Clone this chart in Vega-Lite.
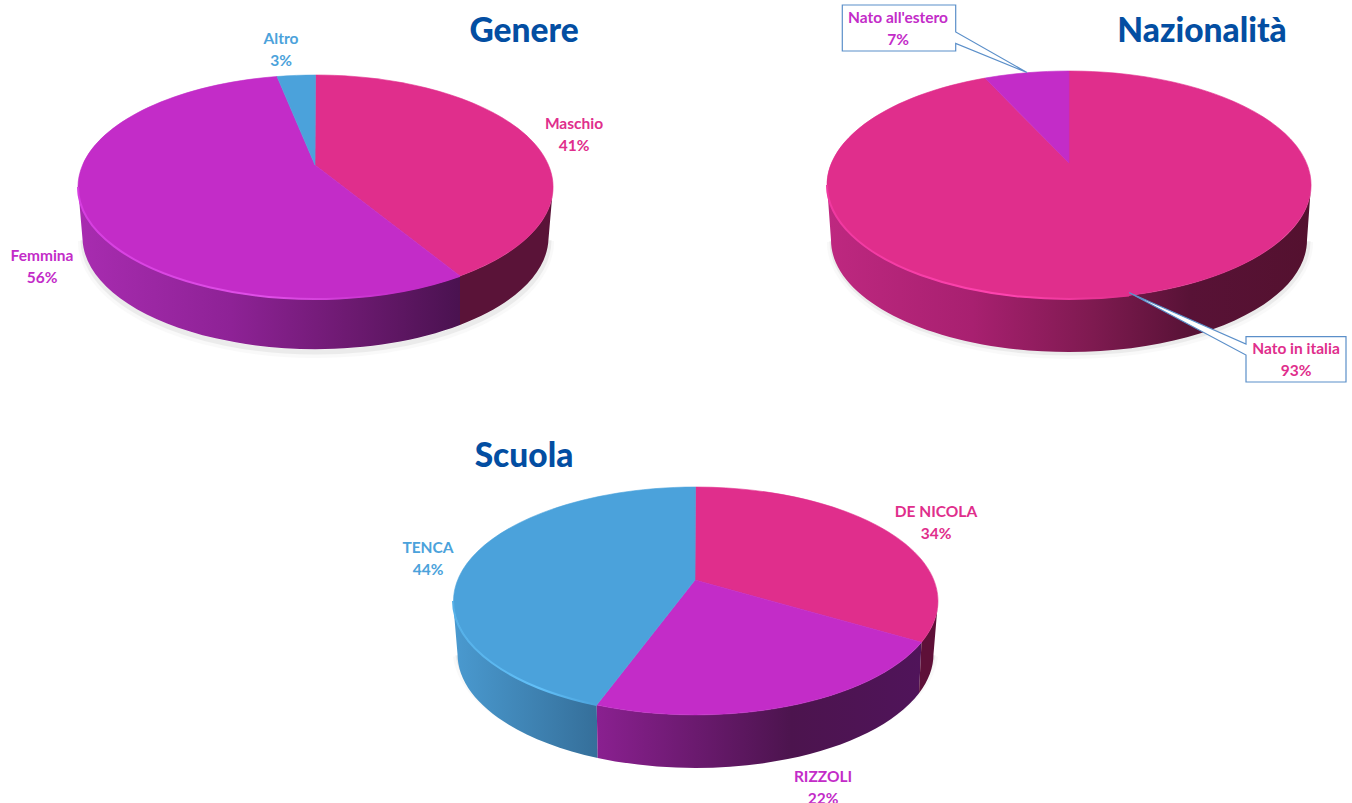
{
"$schema":"https://vega.github.io/schema/vega-lite/v6.json",
"width":1352,"height":803,"padding":0,"autosize":{"type":"none"},
"background":"white",
"config":{"view":{"stroke":null},"text":{"font":"Lato","fontWeight":"bold","fontSize":15.5,"lineBreak":"\n","lineHeight":22,"baseline":"middle","align":"center"}},
"data":{"values":[
{"grafico":"Genere","riga":"alto","fetta":"Maschio","valore":41,"etichetta":"Maschio\n41%"},
{"grafico":"Genere","riga":"alto","fetta":"Femmina","valore":56,"etichetta":"Femmina\n56%"},
{"grafico":"Genere","riga":"alto","fetta":"Altro","valore":3,"etichetta":"Altro\n3%"},
{"grafico":"Nazionalità","riga":"alto","fetta":"Nato in italia","valore":93,"etichetta":"Nato in italia\n93%"},
{"grafico":"Nazionalità","riga":"alto","fetta":"Nato all'estero","valore":7,"etichetta":"Nato all'estero\n7%"},
{"grafico":"Scuola","riga":"basso","fetta":"DE NICOLA","valore":34,"etichetta":"DE NICOLA\n34%"},
{"grafico":"Scuola","riga":"basso","fetta":"RIZZOLI","valore":22,"etichetta":"RIZZOLI\n22%"},
{"grafico":"Scuola","riga":"basso","fetta":"TENCA","valore":44,"etichetta":"TENCA\n44%"}
]},
"encoding":{
"x":{"field":"grafico","type":"nominal","axis":null,"scale":{"type":"point","domain":["Genere","Scuola","Nazionalità"],"range":[315,1069],"padding":0}},
"y":{"field":"riga","type":"nominal","axis":null,"scale":{"type":"point","domain":["alto","basso"],"range":[165,580],"padding":0}}
},
"resolve":{"scale":{"shape":"independent"}},
"layer":[
{"transform":[{"filter":{"field":"fetta","oneOf":["Maschio","Nato in italia","DE NICOLA"]}}],
 "mark":{"type":"point","filled":false,"size":4,"stroke":"#000000","strokeWidth":10,"opacity":0.02},
 "encoding":{"shape":{"field":"grafico","type":"nominal","legend":null,"scale":{"domain":["Genere","Nazionalità","Scuola"],"range":["M-232,76 A233,112 0 0 0 234,76","M-237,77 A238,112 0 0 0 239,77","M-234,76 A238,114 0 0 0 241,76"]}}}},
{"transform":[{"filter":{"field":"fetta","oneOf":["Maschio","Nato in italia","DE NICOLA"]}}],
 "mark":{"type":"point","filled":false,"size":4,"stroke":"#000000","strokeWidth":5,"opacity":0.05},
 "encoding":{"shape":{"field":"grafico","type":"nominal","legend":null,"scale":{"domain":["Genere","Nazionalità","Scuola"],"range":["M-232,75 A233,112 0 0 0 234,75","M-237,76 A238,112 0 0 0 239,76","M-234,75 A238,114 0 0 0 241,75"]}}}},
{"transform":[{"filter":{"field":"fetta","equal":"Femmina"}}],
 "mark":{"type":"point","filled":true,"opacity":1,"size":4,"strokeWidth":0,"shape":"M-237,22 A237.5,112 0 0 0 145,110.9 L145,160 A233,112 0 0 1 -232.5,74 Z",
 "fill":{"gradient":"linear","x1":0,"y1":0,"x2":1,"y2":0,"stops":[{"offset":0,"color":"#A82CB0"},{"offset":0.4,"color":"#8E2296"},{"offset":0.7,"color":"#6E1A72"},{"offset":1,"color":"#4A1250"}]}}},
{"transform":[{"filter":{"field":"fetta","equal":"Maschio"}}],
 "mark":{"type":"point","filled":true,"opacity":1,"size":4,"strokeWidth":0,"shape":"M145,110.9 A237.5,112 0 0 0 238,22 L233.5,74 A233,112 0 0 1 145,160 Z",
 "fill":"#5A1338"}},
{"transform":[{"filter":{"field":"fetta","equal":"Nato in italia"}}],
 "mark":{"type":"point","filled":true,"opacity":1,"size":4,"strokeWidth":0,"shape":"M-242,20 A242,114 0 0 0 242,20 L238,75 A238,112 0 0 1 -238,75 Z",
 "fill":{"gradient":"linear","x1":0,"y1":0,"x2":1,"y2":0,"stops":[{"offset":0,"color":"#BE2880"},{"offset":0.3,"color":"#A82070"},{"offset":0.55,"color":"#7E1A50"},{"offset":0.75,"color":"#581236"},{"offset":1,"color":"#54112F"}]}}},
{"transform":[{"filter":{"field":"fetta","equal":"TENCA"}}],
 "mark":{"type":"point","filled":true,"opacity":1,"size":4,"strokeWidth":0,"shape":"M-239,21 A242.5,114 0 0 0 -95.3,125 L-94.3,177.9 A238,114 0 0 1 -234.5,74 Z",
 "fill":{"gradient":"linear","x1":0,"y1":0,"x2":1,"y2":0,"stops":[{"offset":0,"color":"#4A9AD0"},{"offset":1,"color":"#356F9A"}]}}},
{"transform":[{"filter":{"field":"fetta","equal":"RIZZOLI"}}],
 "mark":{"type":"point","filled":true,"opacity":1,"size":4,"strokeWidth":0,"shape":"M-95.3,125 A242.5,114 0 0 0 229.5,62.3 L227,113.2 A238,114 0 0 1 -94.3,177.9 Z",
 "fill":{"gradient":"linear","x1":0,"y1":0,"x2":1,"y2":0,"stops":[{"offset":0,"color":"#8A2090"},{"offset":0.6,"color":"#4C144E"},{"offset":1,"color":"#50145A"}]}}},
{"transform":[{"filter":{"field":"fetta","equal":"DE NICOLA"}}],
 "mark":{"type":"point","filled":true,"opacity":1,"size":4,"strokeWidth":0,"shape":"M229.5,62.3 A242.5,114 0 0 0 246,21 L241.5,74 A238,114 0 0 1 227,113.2 Z",
 "fill":"#5E1038"}},
{"mark":{"type":"point","filled":true,"opacity":1,"size":4,"strokeWidth":0.6},
 "encoding":{
  "color":{"field":"fetta","type":"nominal","legend":null,"scale":{"domain":["Maschio","Femmina","Altro","Nato in italia","Nato all'estero","DE NICOLA","RIZZOLI","TENCA"],"range":["#E02E8C","#C32CC8","#4BA2DB","#E02E8C","#C32CC8","#E02E8C","#C32CC8","#4BA2DB"]}},
  "stroke":{"field":"fetta","type":"nominal","legend":null,"scale":{"domain":["Maschio","Femmina","Altro","Nato in italia","Nato all'estero","DE NICOLA","RIZZOLI","TENCA"],"range":["#E02E8C","#C32CC8","#4BA2DB","#E02E8C","#C32CC8","#E02E8C","#C32CC8","#4BA2DB"]}},
  "shape":{"field":"fetta","type":"nominal","legend":null,"scale":{"domain":["Maschio","Femmina","Altro","Nato in italia","Nato all'estero","DE NICOLA","RIZZOLI","TENCA"],"range":[
   "M0,0 L0.5,-90 A237.5,112 0 0 1 145,110.9 Z",
   "M0,0 L145,110.9 A237.5,112 0 1 1 -38,-88.5 Z",
   "M0,0 L-38,-88.5 A237.5,112 0 0 1 0.5,-90 Z",
   "M0,-2 L0,-94 A242,114 0 1 1 -84,-86.9 Z",
   "M0,-2 L-84,-86.9 A242,114 0 0 1 0,-94 Z",
   "M3,0 L3.5,-93 A242.5,114 0 0 1 229.5,62.3 Z",
   "M3,0 L229.5,62.3 A242.5,114 0 0 1 -95.3,125 Z",
   "M3,0 L-95.3,125 A242.5,114 0 0 1 3.5,-93 Z"]}}
 }},
{"transform":[{"filter":{"field":"fetta","equal":"Femmina"}}],
 "mark":{"type":"point","filled":false,"opacity":1,"size":4,"strokeWidth":2,"shape":"M-237,22 A237.5,112 0 0 0 145,110.9",
 "stroke":{"gradient":"linear","x1":0,"y1":0,"x2":1,"y2":0,"stops":[{"offset":0,"color":"#D63EE0"},{"offset":0.5,"color":"#E050E8"},{"offset":0.85,"color":"#C32CC8"},{"offset":1,"color":"#C32CC8"}]}}},
{"transform":[{"filter":{"field":"fetta","equal":"Nato in italia"}}],
 "mark":{"type":"point","filled":false,"opacity":1,"size":4,"strokeWidth":2,"shape":"M-242,20 A242,114 0 0 0 60,130.4",
 "stroke":{"gradient":"linear","x1":0,"y1":0,"x2":1,"y2":0,"stops":[{"offset":0,"color":"#F038A0"},{"offset":0.6,"color":"#FF44B0"},{"offset":1,"color":"#E02E8C"}]}}},
{"transform":[{"filter":{"field":"fetta","equal":"TENCA"}}],
 "mark":{"type":"point","filled":false,"opacity":1,"size":4,"strokeWidth":2,"shape":"M-239,21 A242.5,114 0 0 0 -95.3,125",
 "stroke":{"gradient":"linear","x1":0,"y1":0,"x2":1,"y2":0,"stops":[{"offset":0,"color":"#55B0E8"},{"offset":0.6,"color":"#62C0F8"},{"offset":1,"color":"#4BA2DB"}]}}},
{"transform":[{"filter":{"field":"fetta","equal":"Nato all'estero"}}],
 "mark":{"type":"point","filled":true,"opacity":1,"size":4,"fill":"#FFFFFF","stroke":"#5B8FC9","strokeWidth":1.2,"shape":"M-226.7,-160 L-113.3,-160 L-113.3,-133 L-42,-92.5 L-113.3,-121.5 L-113.3,-114 L-226.7,-114 Z"}},
{"transform":[{"filter":{"field":"fetta","equal":"Nato in italia"}}],
 "mark":{"type":"point","filled":true,"opacity":1,"size":4,"fill":"#FFFFFF","stroke":"#5B8FC9","strokeWidth":1.2,"shape":"M177,171.7 L277,171.7 L277,217 L177,217 L177,190 L60.3,127.7 L177,179 Z"}},
{"transform":[{"filter":{"field":"fetta","equal":"Maschio"}}],"mark":{"type":"text","dx":259,"dy":-41},"encoding":{"text":{"field":"etichetta"},"color":{"field":"fetta","type":"nominal","legend":null}}},
{"transform":[{"filter":{"field":"fetta","equal":"Femmina"}}],"mark":{"type":"text","dx":-273,"dy":90.5},"encoding":{"text":{"field":"etichetta"},"color":{"field":"fetta","type":"nominal","legend":null}}},
{"transform":[{"filter":{"field":"fetta","equal":"Altro"}}],"mark":{"type":"text","dx":-34,"dy":-126},"encoding":{"text":{"field":"etichetta"},"color":{"field":"fetta","type":"nominal","legend":null}}},
{"transform":[{"filter":{"field":"fetta","equal":"Nato all'estero"}}],"mark":{"type":"text","dx":-171,"dy":-147.5},"encoding":{"text":{"field":"etichetta"},"color":{"field":"fetta","type":"nominal","legend":null}}},
{"transform":[{"filter":{"field":"fetta","equal":"Nato in italia"}}],"mark":{"type":"text","dx":227,"dy":183.5},"encoding":{"text":{"field":"etichetta"},"color":{"field":"fetta","type":"nominal","legend":null}}},
{"transform":[{"filter":{"field":"fetta","equal":"DE NICOLA"}}],"mark":{"type":"text","dx":244,"dy":-68.5},"encoding":{"text":{"field":"etichetta"},"color":{"field":"fetta","type":"nominal","legend":null}}},
{"transform":[{"filter":{"field":"fetta","equal":"RIZZOLI"}}],"mark":{"type":"text","dx":131,"dy":197},"encoding":{"text":{"field":"etichetta"},"color":{"field":"fetta","type":"nominal","legend":null}}},
{"transform":[{"filter":{"field":"fetta","equal":"TENCA"}}],"mark":{"type":"text","dx":-264,"dy":-32},"encoding":{"text":{"field":"etichetta"},"color":{"field":"fetta","type":"nominal","legend":null}}},
{"transform":[{"filter":{"field":"fetta","equal":"Maschio"}}],"mark":{"type":"text","dx":209,"dy":-133,"fontSize":33.5,"fontWeight":900,"color":"#034EA2"},"encoding":{"text":{"field":"grafico"}}},
{"transform":[{"filter":{"field":"fetta","equal":"Nato in italia"}}],"mark":{"type":"text","dx":133,"dy":-133,"fontSize":33.5,"fontWeight":900,"color":"#034EA2"},"encoding":{"text":{"field":"grafico"}}},
{"transform":[{"filter":{"field":"fetta","equal":"DE NICOLA"}}],"mark":{"type":"text","dx":-168,"dy":-123,"fontSize":33.5,"fontWeight":900,"color":"#034EA2"},"encoding":{"text":{"field":"grafico"}}}
]
}
